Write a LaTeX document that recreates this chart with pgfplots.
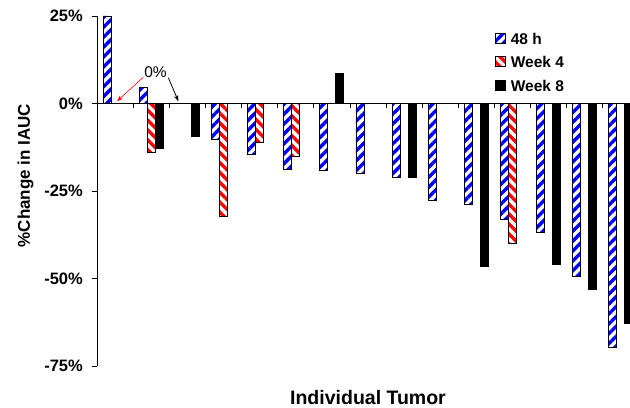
\documentclass[border=0pt]{standalone}
\usepackage{fontspec}
\setmainfont{Liberation Sans}
\usepackage{pgfplots}
\pgfplotsset{compat=1.18}
\usetikzlibrary{patterns.meta,arrows.meta,calc}

\pgfplotsset{
  sqlegend/.style={legend image code/.code={\draw[##1] (0bp,-5bp) rectangle (10bp,5bp);}},
}

\begin{document}
\begin{tikzpicture}
\begin{axis}[
  x=36.13bp, y=3.5bp,
  xmin=-0.5, xmax=14.5, ymin=-75, ymax=25,
  enlargelimits=false,
  clip=false,
  axis x line*=middle,
  axis y line*=left,
  axis line style={line width=0.8bp, black},
  ybar=0pt, bar width=8bp,
  xtick={-0.5,0.5,...,14.5},
  xticklabels={},
  ytick={-75,-50,-25,0,25},
  yticklabels={-75\%,-50\%,-25\%,0\%,25\%},
  tick align=outside,
  major tick length=5bp,
  tick style={line width=0.8bp, black},
  yticklabel style={inner sep=0pt, xshift=-9bp, font=\bfseries\fontsize{16.5bp}{19bp}\selectfont},
  legend style={draw=none, fill=none, inner sep=0pt,
    at={(rel axis cs:0.734,0.953)}, anchor=north west,
    font=\bfseries\fontsize{15.5bp}{18bp}\selectfont,
    row sep=12bp, /tikz/column sep=5bp,
    nodes={inner sep=0pt, text height=11.5bp, text depth=0pt}},
  legend cell align=left,
]
\addplot[sqlegend, draw=black, line width=0.8bp,
  pattern={Lines[angle=45,distance=7bp,line width=3.4bp]}, pattern color=blue]
  coordinates {(0,25) (1,4.5) (3,-10.3) (4,-14.6) (5,-18.9) (6,-19.2) (7,-20) (8,-21) (9,-27.7) (10,-28.7) (11,-33.1) (12,-36.8) (13,-49.5) (14,-69.8)};
\addplot[sqlegend, draw=black, line width=0.8bp,
  pattern={Lines[angle=-45,distance=7bp,line width=3.4bp]}, pattern color=red]
  coordinates {(1,-14.1) (3,-32.2) (4,-11) (5,-15) (11,-40)};
\addplot[sqlegend, draw=black, line width=0.8bp, fill=black]
  coordinates {(1,-12.7) (2,-9.3) (6,8.6) (8,-21) (10,-46.5) (12,-46) (13,-53.1) (14,-62.7)};
\legend{48 h, Week 4, Week 8}

\node[font=\fontsize{15.5bp}{18bp}\selectfont] at (axis cs:1.12,9.0) {0\%};
\draw[red, line width=0.6bp, -{Stealth[length=6bp,width=4.5bp]}] (axis cs:0.783,7.51) -- (axis cs:0.055,0.66);
\draw[black, line width=0.8bp, -{Stealth[length=6bp,width=4.5bp]}] (axis cs:1.475,7.34) -- (axis cs:1.752,0.66);

\node[anchor=base, font=\bfseries\fontsize{19.5bp}{22bp}\selectfont] at (axis cs:7,-85.9) {Individual Tumor};
\node[rotate=90, anchor=center, font=\bfseries\fontsize{17bp}{19bp}\selectfont] at (axis cs:-2.477,-20.6) {\%Change in IAUC};

\coordinate (O) at (rel axis cs:0,0);
\end{axis}
\pgfresetboundingbox
\path[use as bounding box] ($(O)+(-97bp,-42bp)$) rectangle ++(630bp,408bp);
\end{tikzpicture}
\end{document}
